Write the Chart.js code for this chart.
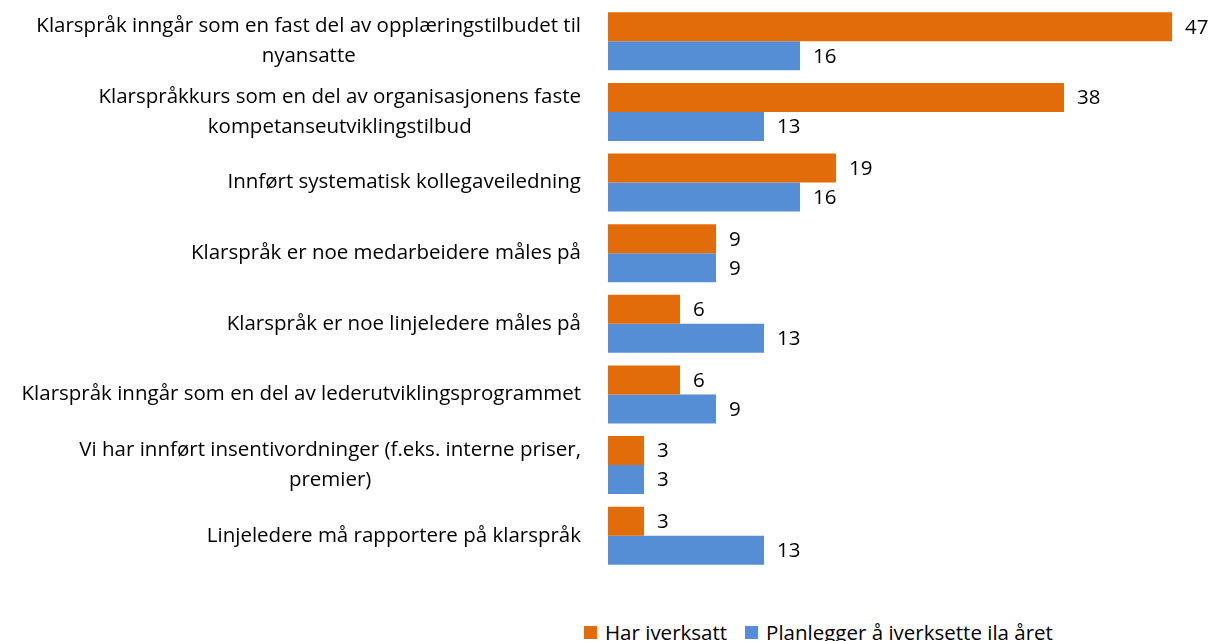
<!DOCTYPE html>
<html>
<head>
    <meta charset="utf-8">
    <title>Klarspråk - tiltak</title>
    <style>
        body {
            margin: 0;
            background-color: #fff;
            font-family: "Open Sans", sans-serif;
        }
        #wrap {
            position: relative;
            width: 1208px;
            height: 641px;
            overflow: hidden;
        }
        #myChart {
            position: absolute;
            left: 0;
            top: 0;
        }
        #legend {
            position: absolute;
            left: 584px;
            top: 622px;
            font-size: 20.5px;
            line-height: 20px;
            color: #000;
            white-space: nowrap;
        }
        #legend span.box {
            display: inline-block;
            width: 13px;
            height: 13px;
            margin-right: 8px;
            vertical-align: 1px;
        }
        #legend span.item {
            margin-right: 18px;
        }
    </style>
</head>
<body>
    <div id="wrap">
        <canvas id="myChart" width="1208" height="577"></canvas>
        <div id="legend"></div>
    </div>
    <script src="https://cdn.jsdelivr.net/npm/chart.js"></script>
    <script>
        // categories (multi-line ones as arrays)
        const categories = [
            ['Klarspråk inngår som en fast del av opplæringstilbudet til', 'nyansatte'],
            ['Klarspråkkurs som en del av organisasjonens faste', 'kompetanseutviklingstilbud'],
            ['Innført systematisk kollegaveiledning'],
            ['Klarspråk er noe medarbeidere måles på'],
            ['Klarspråk er noe linjeledere måles på'],
            ['Klarspråk inngår som en del av lederutviklingsprogrammet'],
            ['Vi har innført insentivordninger (f.eks. interne priser,', 'premier)'],
            ['Linjeledere må rapportere på klarspråk']
        ];
        const harIverksatt = [47, 38, 19, 9, 6, 6, 3, 3];
        const planlegger = [16, 13, 16, 9, 13, 9, 3, 13];
        const seriesNames = ['Har iverksatt', 'Planlegger å iverksette ila året'];
        const seriesColors = ['#E36C0A', '#558ED5'];
        const xMax = 47;

        const fontFamily = '"Open Sans", sans-serif';
        const fontSize = 20.5;

        // draws the category labels: block right aligned, lines centred in the block
        const categoryLabels = {
            id: 'categoryLabels',
            afterDraw(chart) {
                const ctx = chart.ctx;
                const yScale = chart.scales.y;
                const rightEdge = chart.chartArea.left - 27;
                const lineHeight = 30;
                ctx.save();
                ctx.font = fontSize + 'px ' + fontFamily;
                ctx.fillStyle = '#000';
                ctx.textAlign = 'center';
                ctx.textBaseline = 'middle';
                categories.forEach((lines, i) => {
                    const y = yScale.getPixelForValue(i);
                    let w = 0;
                    lines.forEach(l => { w = Math.max(w, ctx.measureText(l).width); });
                    const cx = rightEdge - w / 2;
                    const y0 = y - (lines.length - 1) * lineHeight / 2;
                    lines.forEach((l, k) => ctx.fillText(l, cx, y0 + k * lineHeight));
                });
                ctx.restore();
            }
        };

        // value labels at the end of each bar
        const valueLabels = {
            id: 'valueLabels',
            afterDatasetsDraw(chart) {
                const ctx = chart.ctx;
                ctx.save();
                ctx.font = fontSize + 'px ' + fontFamily;
                ctx.fillStyle = '#000';
                ctx.textAlign = 'left';
                ctx.textBaseline = 'middle';
                chart.data.datasets.forEach((ds, d) => {
                    chart.getDatasetMeta(d).data.forEach((bar, i) => {
                        ctx.fillText(ds.data[i], bar.x + 13, bar.y + 1);
                    });
                });
                ctx.restore();
            }
        };

        const data = {
            labels: categories,
            datasets: [{
                label: seriesNames[0],
                data: harIverksatt,
                backgroundColor: seriesColors[0],
                borderWidth: 0
            }, {
                label: seriesNames[1],
                data: planlegger,
                backgroundColor: seriesColors[1],
                borderWidth: 0
            }]
        };

        const options = {
            indexAxis: 'y',
            responsive: false,
            animation: false,
            layout: {
                padding: { top: 6, bottom: 6, right: 36, left: 0 }
            },
            datasets: {
                bar: {
                    categoryPercentage: 0.82,
                    barPercentage: 1.0
                }
            },
            scales: {
                x: {
                    display: false,
                    min: 0,
                    max: xMax
                },
                y: {
                    ticks: { display: false },
                    grid: { display: false },
                    border: { display: false },
                    afterFit: function(scale) {
                        scale.width = 608;
                    }
                }
            },
            plugins: {
                legend: { display: false },
                tooltip: { enabled: false }
            }
        };

        const ctx = document.getElementById('myChart').getContext('2d');
        const myChart = new Chart(ctx, {
            type: 'bar',
            data: data,
            options: options,
            plugins: [categoryLabels, valueLabels]
        });

        // legend below the chart
        const legend = document.getElementById('legend');
        seriesNames.forEach((name, i) => {
            const item = document.createElement('span');
            item.className = 'item';
            item.innerHTML = `<span class="box" style="background:${seriesColors[i]}"></span>${name}`;
            legend.appendChild(item);
        });
    </script>
</body>
</html>
